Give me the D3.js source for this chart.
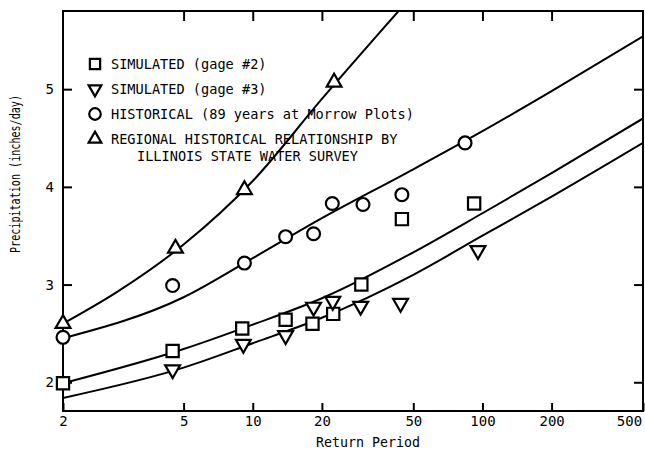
<!DOCTYPE html>
<html>
<head>
<meta charset="utf-8">
<script src="https://cdn.jsdelivr.net/npm/d3@7"></script>
<style>
  body { margin: 0; background: #fff; }
  svg { display: block; }
  text { font-family: "DejaVu Sans Mono", monospace; fill: #000; }
</style>
</head>
<body>
<div id="chart"></div>
<script>
'use strict';

// Ticks
var xTicks = [2, 5, 10, 20, 50, 100, 200, 500];
var yTicks = [2, 3, 4, 5];

// Plotted points, [return period, inches/day]
var gage2Points      = [[2, 1.99], [4.6, 2.32], [9.0, 2.55], [13.9, 2.64], [18.2, 2.60], [22.4, 2.70], [29.7, 3.00], [44.6, 3.67], [92, 3.83]];
var gage3Points      = [[4.6, 2.13], [9.1, 2.39], [13.9, 2.48], [18.4, 2.77], [22.3, 2.83], [29.5, 2.78], [44, 2.81], [95.6, 3.35]];
var historicalPoints = [[2, 2.46], [4.6, 2.99], [9.2, 3.22], [13.9, 3.49], [18.4, 3.52], [22.2, 3.83], [30.2, 3.82], [44.6, 3.92], [84, 4.45]];
var regionalPoints   = [[2, 2.6], [4.7, 3.37], [9.2, 3.97], [22.6, 5.07]];

// Fitted curves
var regionalCurve   = [[2, 2.6], [3, 2.92], [5, 3.41], [10, 4.06], [20, 4.90], [50, 5.97]];
var historicalCurve = [[2, 2.45], [5, 2.87], [10, 3.27], [20, 3.68], [50, 4.18], [100, 4.57], [200, 4.98], [500, 5.54]];
var gage2Curve      = [[2, 1.99], [5, 2.34], [10, 2.59], [20, 2.86], [50, 3.33], [100, 3.73], [200, 4.14], [500, 4.70]];
var gage3Curve      = [[2, 1.84], [5, 2.15], [10, 2.40], [20, 2.66], [50, 3.10], [100, 3.50], [200, 3.90], [500, 4.45]];

var legendLabels = [
  'SIMULATED (gage #2)',
  'SIMULATED (gage #3)',
  'HISTORICAL (89 years at Morrow Plots)',
  'REGIONAL HISTORICAL RELATIONSHIP BY'
];

var margin = {top: 11, right: 2, bottom: 43, left: 63}
    ,width  = 645 - margin.left - margin.right
    ,height = 454 - margin.top - margin.bottom;

var svg = d3.select('#chart').append('svg')
    .attr('width', width + margin.left + margin.right)
    .attr('height', height + margin.top + margin.bottom);

var g = svg.append('g')
    .attr('transform', 'translate(' + margin.left + ',' + margin.top + ')');

// Probability paper: the 2-5 stretch is wider than the log decades after it.
var x = d3.scaleLog()
    .domain([2, 5, 500])
    .range([0, 120.6, width]);

var y = d3.scaleLinear()
    .domain([1.706, 5.8])
    .range([height, 0]);

g.append('clipPath').attr('id', 'plot-clip')
  .append('rect').attr('width', width).attr('height', height);

// Axes, ticks pointing inward
var bottom = g.append('g')
    .attr('transform', 'translate(0,' + height + ')')
    .call(d3.axisBottom(x).tickValues(xTicks).tickFormat(d3.format('d')).tickSize(-8).tickPadding(5));

// last label would run off the page, so it sits left of its tick
bottom.selectAll('text').filter(function(d) { return d === 500; })
    .attr('text-anchor', 'end').attr('dx', '-0.1em');

g.append('g')
    .call(d3.axisTop(x).tickValues(xTicks.slice(1, -1)).tickSize(-10).tickFormat(''));

g.append('g')
    .call(d3.axisLeft(y).tickValues(yTicks).tickFormat(d3.format('d')).tickSize(-9).tickPadding(9));

g.append('g')
    .attr('transform', 'translate(' + width + ',0)')
    .call(d3.axisRight(y).tickValues(yTicks).tickSize(-9).tickFormat(''));

g.selectAll('.domain').remove();
g.selectAll('.tick line').attr('stroke', '#000').attr('stroke-width', 2);
g.selectAll('.tick text').style('font-size', '14px').style('font-family', '"DejaVu Sans Mono", monospace');

g.append('rect')
    .attr('width', width)
    .attr('height', height)
    .attr('fill', 'none')
    .attr('stroke', '#000')
    .attr('stroke-width', 2);

// Curves
var line = d3.line()
    .x(function(d) { return x(d[0]); })
    .y(function(d) { return y(d[1]); })
    .curve(d3.curveMonotoneX);

g.append('g').attr('clip-path', 'url(#plot-clip)')
  .selectAll('path')
  .data([regionalCurve, historicalCurve, gage2Curve, gage3Curve])
  .enter().append('path')
    .attr('d', line)
    .attr('fill', 'none')
    .attr('stroke', '#000')
    .attr('stroke-width', 2);

// Markers
var shapes = {
  square:   d3.symbol().type(d3.symbolSquare).size(150),
  circle:   d3.symbol().type(d3.symbolCircle).size(130),
  triangle: d3.symbol().type(d3.symbolTriangle).size(95)
};

function drawMarkers(data, shape, flip) {
  g.append('g').selectAll('path')
    .data(data)
    .enter().append('path')
      .attr('d', shapes[shape])
      .attr('transform', function(d) {
        return 'translate(' + x(d[0]) + ',' + y(d[1]) + ')' + (flip ? ' rotate(180)' : '');
      })
      .attr('fill', '#fff')
      .attr('stroke', '#000')
      .attr('stroke-width', 2.2);
}

drawMarkers(gage2Points, 'square');
drawMarkers(gage3Points, 'triangle', true);
drawMarkers(historicalPoints, 'circle');
drawMarkers(regionalPoints, 'triangle');

// Legend
var legendShapes = [['square', false], ['triangle', true], ['circle', false], ['triangle', false]];
var legend = svg.append('g').attr('transform', 'translate(95,64)');

legend.selectAll('path')
  .data(legendShapes)
  .enter().append('path')
    .attr('d', function(d) { return d3.symbol().type(d[0] === 'square' ? d3.symbolSquare : d[0] === 'circle' ? d3.symbolCircle : d3.symbolTriangle).size(d[0] === 'triangle' ? 70 : 105)(); })
    .attr('transform', function(d, i) { return 'translate(0,' + (i * 25) + ')' + (d[1] ? ' rotate(180)' : ''); })
    .attr('fill', '#fff')
    .attr('stroke', '#000')
    .attr('stroke-width', 2.2);

legend.selectAll('text')
  .data(legendLabels)
  .enter().append('text')
    .attr('x', 16)
    .attr('y', function(d, i) { return i * 25 + 5; })
    .style('font-size', '13.6px')
    .text(function(d) { return d; });

legend.append('text')
    .attr('x', 42)
    .attr('y', 3 * 25 + 22)
    .style('font-size', '13.6px')
    .text('ILLINOIS STATE WATER SURVEY');

// Axis titles
svg.append('text')
    .attr('transform', 'translate(20,174) rotate(-90)')
    .attr('text-anchor', 'middle')
    .attr('textLength', 158)
    .attr('lengthAdjust', 'spacingAndGlyphs')
    .style('font-size', '13.5px')
    .text('Precipitation (inches/day)');

svg.append('text')
    .attr('x', 368)
    .attr('y', 447)
    .attr('text-anchor', 'middle')
    .style('font-size', '13.3px')
    .text('Return Period');
</script>
</body>
</html>
